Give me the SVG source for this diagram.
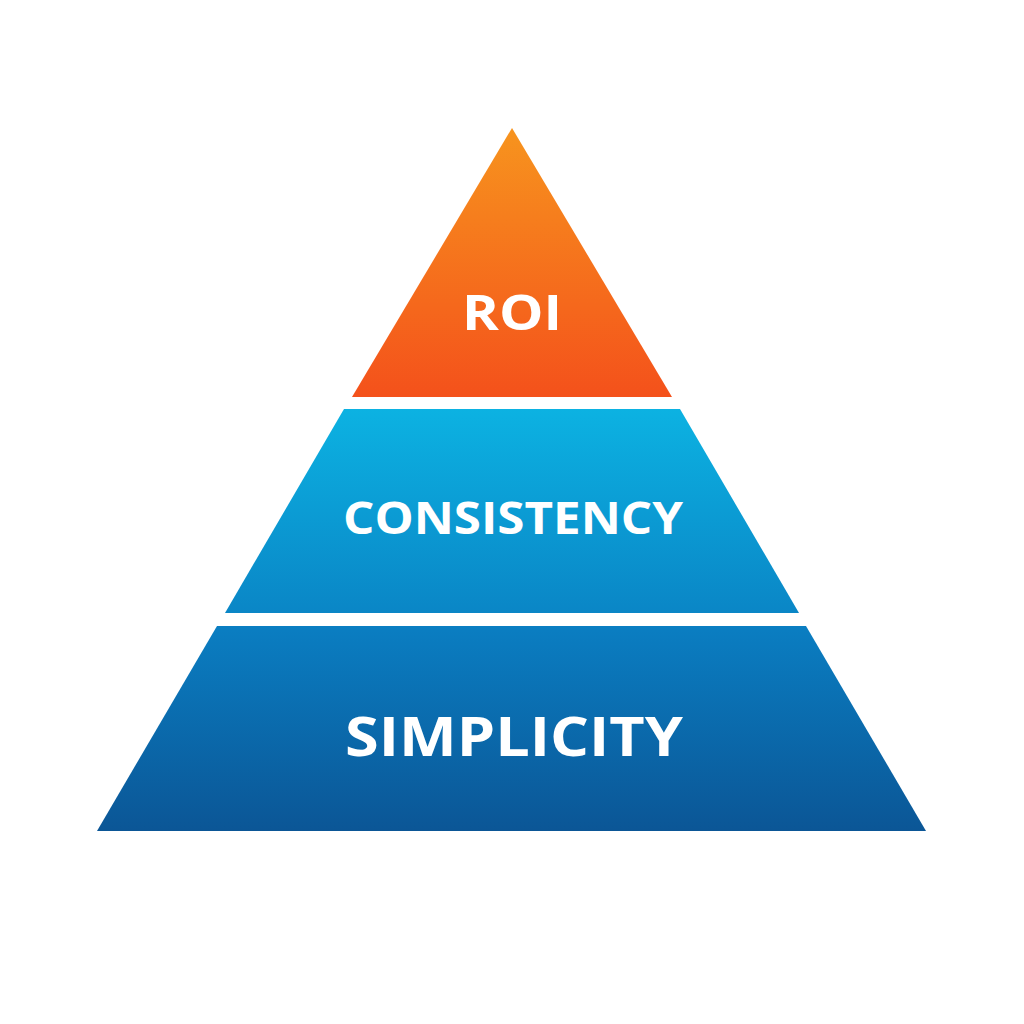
<svg xmlns="http://www.w3.org/2000/svg" width="1024" height="1024" viewBox="0 0 1024 1024">
<defs>
<linearGradient id="gTop" x1="0" y1="0" x2="0" y2="1"><stop offset="0" stop-color="#F7941E"/><stop offset="1" stop-color="#F4511B"/></linearGradient>
<linearGradient id="gMid" x1="0" y1="0" x2="0" y2="1"><stop offset="0" stop-color="#0CB2E2"/><stop offset="1" stop-color="#0A86C6"/></linearGradient>
<linearGradient id="gBot" x1="0" y1="0" x2="0" y2="1"><stop offset="0" stop-color="#0A7EC2"/><stop offset="1" stop-color="#0B5696"/></linearGradient>
<style>text{font-family:"Open Sans","Liberation Sans",sans-serif;font-weight:bold;fill:#fff;text-anchor:middle}</style>
</defs>
<rect width="1024" height="1024" fill="#fff"/>
<g id="roi"><polygon points="512,128 672,397 352,397" fill="url(#gTop)"/><text x="512" y="330" font-size="48" textLength="100" lengthAdjust="spacingAndGlyphs">ROI</text></g>
<g id="consistency"><polygon points="344,409 680,409 799,613 225,613" fill="url(#gMid)"/><text x="513" y="534" font-size="45" textLength="340" lengthAdjust="spacingAndGlyphs">CONSISTENCY</text></g>
<g id="simplicity"><polygon points="217,626 806,626 926,831 97,831" fill="url(#gBot)"/><text x="514" y="756" font-size="54" textLength="338" lengthAdjust="spacingAndGlyphs">SIMPLICITY</text></g>
<g id="connectors"/>
</svg>
